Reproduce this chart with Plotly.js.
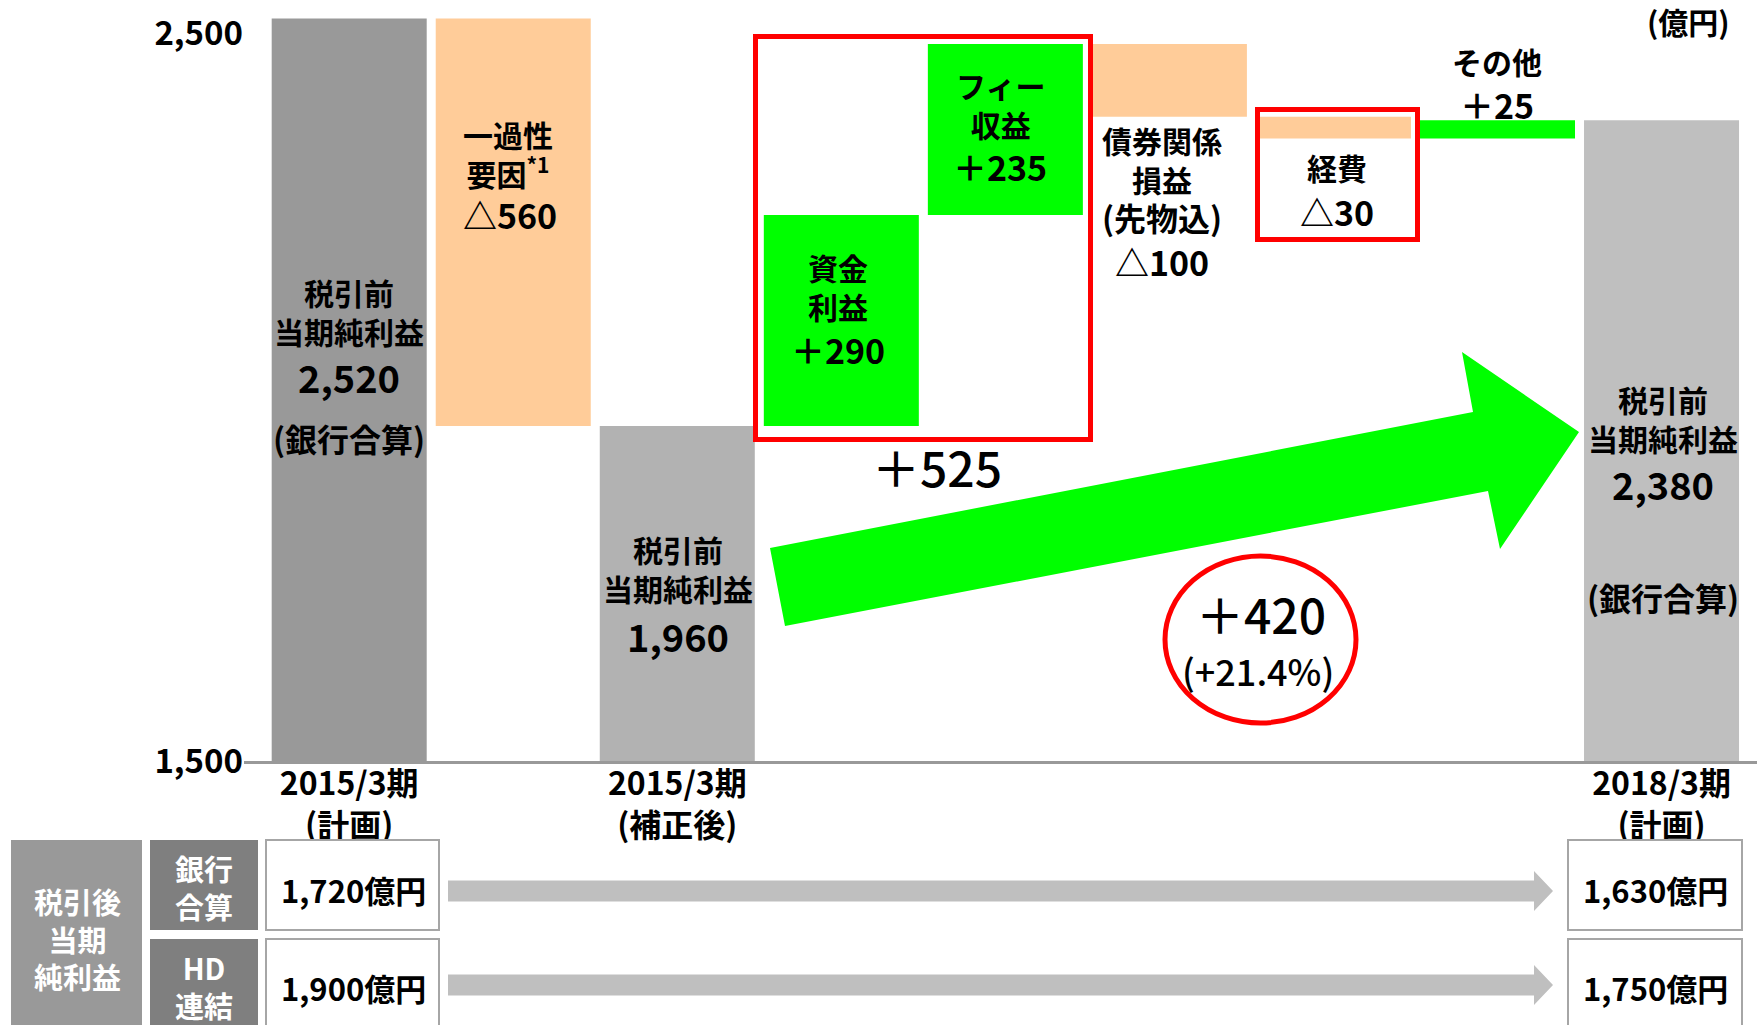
<!DOCTYPE html>
<html><head><meta charset="utf-8">
<script src="https://cdn.plot.ly/plotly-3.0.1.min.js"></script>
<style>html,body{margin:0;padding:0;background:#fff;} #chart{width:1757px;height:1025px;}</style>
</head><body><div id="chart"></div>
<script>
// ---- data ----
const categories = ['2015/3期（計画）','一過性要因','2015/3期（補正後）','資金利益','フィー収益','債券関係損益','経費','その他','2018/3期（計画）'];
const measures = ['total','relative','total','relative','relative','relative','relative','relative','total'];
const values = [2520, -560, 1960, 290, 235, -100, -30, 25, 2380];
const barColors = ['#999999','#FFCC99','#B2B2B2','#00FF00','#00FF00','#FFCC99','#FFCC99','#00FF00','#BFBFBF'];
const tickCats = ['2015/3期（計画）','2015/3期（補正後）','2018/3期（計画）'];
const tickLabels = ['2015/3期<br>(計画)','2015/3期<br>(補正後)','2018/3期<br>(計画)'];
const yTickVals = [1500, 2500];
const yTickText = ['1,500','2,500'];
const totalGrowth = '＋420';
const totalGrowthPct = '(+21.4%)';
const topLineSum = '＋525';
const rowHeads = ['銀行<br>合算','HD<br>連結'];
const afterTaxStart = ['1,720億円','1,900億円'];
const afterTaxEnd = ['1,630億円','1,750億円'];

// ---- build waterfall from values ----
const bases = [], heights = [];
let running = 0;
values.forEach((v,i)=>{
  if (measures[i]==='total'){ bases.push(0); heights.push(v); running = v; }
  else { bases.push(running); heights.push(v); running += v; }
});
const fmt = v => Math.abs(v).toLocaleString('en-US');
const sgn = v => (v >= 0 ? '＋' : '△') + Math.abs(v);

const W = 1757, H = 1025, L = 244, PB = 761; // plot area: x 244..1757, y 0..761
const PW = W - L;
const FONT = '"Noto Sans CJK JP", "Noto Sans", sans-serif';
const px = x => (x - L) / PW;
const py = y => (PB - y) / PB;

function T(text, x, y, size, opt){
  opt = opt || {};
  return {text:text, xref:'paper', yref:'paper', x:px(x), y:py(y), xanchor:'center', yanchor:'middle',
    showarrow:false, borderpad:0, font:{family:FONT, size:size, color:opt.color||'#000', weight:opt.weight||'bold'}};
}
const ann = [];
// bar labels
ann.push(T('税引前<br>当期純利益',349,311,30), T(fmt(values[0]),349,376,38), T('(銀行合算)',349,438,32));
ann.push(T('一過性<br>要因<sup>*1</sup>',508,153,30), T(sgn(values[1]),510,215,34));
ann.push(T('税引前<br>当期純利益',678,568,30), T(fmt(values[2]),678,635,38));
ann.push(T('資金<br>利益',838,287,30), T(sgn(values[3]),838,349,34));
ann.push(T('フィー<br>収益',1000,104,30), T(sgn(values[4]),1000,166,34));
ann.push(T('債券関係<br>損益<br><span style="font-size:32px">(先物込)</span>',1162,179,30), T(sgn(values[5]),1162,261,34));
ann.push(T('経費',1337,167,30), T(sgn(values[6]),1337,211,34));
ann.push(T('その他',1497,61,30), T(sgn(values[7]),1497,105,34));
ann.push(T('税引前<br>当期純利益',1663,419,30), T(fmt(values[8]),1663,484,38), T('(銀行合算)',1663,597,32));
ann.push(T(topLineSum,937,466,48,{weight:500}));
ann.push(T(totalGrowth,1261,613,48,{weight:500}));
ann.push(T(totalGrowthPct,1258,670,36,{weight:500}));
ann.push(T('(億円)',1688,21,30));
// table texts
ann.push(T('税引後<br>当期<br>純利益',77,938,29,{color:'#fff'}));
ann.push(T(rowHeads[0],204,887,29,{color:'#fff'}));
ann.push(T(rowHeads[1],204,986,29,{color:'#fff'}));
ann.push(T(afterTaxStart[0],353,889,31), T(afterTaxStart[1],353,987,31));
ann.push(T(afterTaxEnd[0],1655,889,31), T(afterTaxEnd[1],1655,987,31));

// shapes
function rect(x0,y0,x1,y1,fill,line,lw){
  return {type:'rect', xref:'paper', yref:'paper', x0:px(x0), x1:px(x1), y0:py(y1), y1:py(y0),
    fillcolor:fill||'rgba(0,0,0,0)', line:{color:line||'rgba(0,0,0,0)', width:lw||0}, layer:'above'};
}
function poly(pts, fill){
  const d = pts.map((p,i)=>(i?'L':'M')+px(p[0])+','+py(p[1])).join(' ')+' Z';
  return {type:'path', xref:'paper', yref:'paper', path:d, fillcolor:fill, line:{width:0}, layer:'above'};
}
const shapes = [];
shapes.push(rect(755.5,36.5,1090.5,439.5,null,'#FF0000',5));
shapes.push(rect(1257.5,109.5,1417.5,239.5,null,'#FF0000',5));
shapes.push({type:'circle', xref:'paper', yref:'paper', x0:px(1165), x1:px(1356), y0:py(723), y1:py(556),
  line:{color:'#FF0000', width:5}, fillcolor:'rgba(0,0,0,0)'});
shapes.push(poly([[770,548],[1473,412],[1462,352],[1579,432],[1500,549],[1488,491],[785,626]],'#00FF00'));
// table
shapes.push(rect(11,840,142,1030,'#999999'));
shapes.push(rect(150,840,258,930,'#7F7F7F'));
shapes.push(rect(150,939,258,1030,'#7F7F7F'));
shapes.push(rect(266,840,439,930,'#FFFFFF','#A6A6A6',2));
shapes.push(rect(266,939,439,1035,'#FFFFFF','#A6A6A6',2));
shapes.push(rect(1568,840,1742,930,'#FFFFFF','#A6A6A6',2));
shapes.push(rect(1568,939,1742,1035,'#FFFFFF','#A6A6A6',2));
[891,985].forEach(c=>{
  shapes.push(poly([[448,c-10.5],[1534,c-10.5],[1534,c-20],[1553,c],[1534,c+20],[1534,c+10.5],[448,c+10.5]],'#BFBFBF'));
});

const trace = {
  type:'bar', x:categories, y:heights, base:bases,
  marker:{color:barColors, line:{width:0}},
  hoverinfo:'skip'
};

const layout = {
  width:W, height:H, margin:{l:L, r:0, t:0, b:H-PB, pad:0},
  paper_bgcolor:'#fff', plot_bgcolor:'rgba(0,0,0,0)',
  showlegend:false, bargap:0.055,
  font:{family:FONT, color:'#000'},
  xaxis:{type:'category', range:[-0.6413, 8.582], showgrid:false, zeroline:false,
    showline:true, linecolor:'#999999', linewidth:3, ticks:'',
    tickmode:'array', tickvals:tickCats, ticktext:tickLabels, ticklabelstandoff:-7,
    tickfont:{family:FONT, size:32, color:'#000', weight:'bold'}, tickangle:0, fixedrange:true},
  yaxis:{range:[1500, 1500 + PB/0.728], showgrid:false, zeroline:false, showline:false, ticks:'',
    tickmode:'array', tickvals:yTickVals, ticktext:yTickText,
    tickfont:{family:FONT, size:33, color:'#000', weight:'bold'}, fixedrange:true},
  annotations:ann, shapes:shapes
};
Plotly.newPlot('chart',[trace],layout,{staticPlot:true, displayModeBar:false});
</script></body></html>
